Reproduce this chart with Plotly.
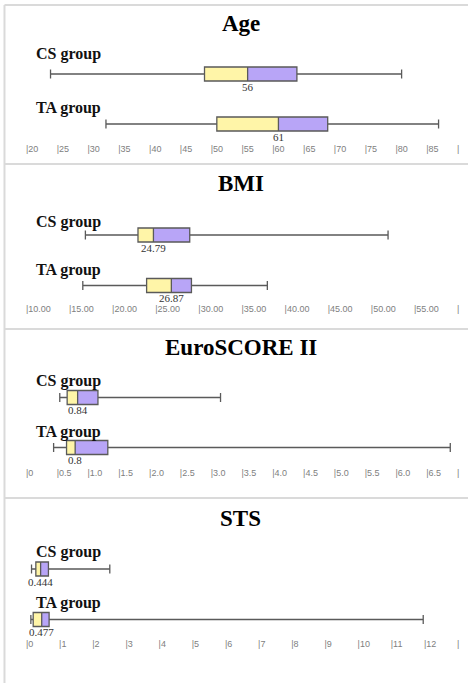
import plotly.graph_objects as go

# ---- data -------------------------------------------------------------
panel_titles = ["Age", "BMI", "EuroSCORE II", "STS"]
group_names = ["CS group", "TA group"]

# five-number summaries per panel: [CS, TA]
whisker_low = [[24, 33], [16.9, 16.6], [0.55, 0.45], [0.17, 0.15]]
quart1 = [[49, 51], [23.0, 24.0], [0.67, 0.66], [0.30, 0.22]]
medians = [[56, 61], [24.79, 26.87], [0.84, 0.8], [0.444, 0.477]]
quart3 = [[64, 69], [29.0, 29.2], [1.17, 1.33], [0.68, 0.70]]
whisker_high = [[81, 87], [52.0, 38.0], [3.16, 6.89], [2.53, 11.98]]

# axis scales and tick labels per panel
axis_ranges = [[20, 90], [10, 60], [0, 7], [0, 13]]
tick_values = [
    list(range(20, 91, 5)),
    list(range(10, 61, 5)),
    [i * 0.5 for i in range(15)],
    list(range(0, 14)),
]
tick_labels = [
    [str(v) for v in range(20, 90, 5)] + [""],
    [f"{v:.2f}" for v in range(10, 60, 5)] + [""],
    ["0"] + [f"{i * 0.5:.1f}" for i in range(1, 14)] + [""],
    [str(v) for v in range(0, 13)] + [""],
]

# ---- layout (pixel rows, page is 470 x 683) ---------------------------
W, H = 470, 683
panel_tops = [5, 164, 329, 498]
title_y = [23, 183, 347, 518]
label_y = [[54, 108], [222, 270], [381, 432], [552, 603]]
box_y = [[74, 124], [235, 285.5], [397.5, 447.5], [569, 619.5]]
tick_row_y = [148, 308, 472, 643]
BOX_H = 14
MED_LABEL_DY = 12.5

YELLOW = "#FFF5A8"
PURPLE = "#B8A5F7"
EDGE = "#5A5A5A"

fig = go.Figure()
annotations = []
shapes = []

x0_px, x1_px = 26, 459
for p in range(4):
    ax = "x" if p == 0 else f"x{p + 1}"
    for g in range(2):
        yc = box_y[p][g]
        # lower half of the box (Q1 -> median)
        fig.add_trace(go.Bar(
            x=[medians[p][g] - quart1[p][g]], base=[quart1[p][g]], y=[yc],
            orientation="h", width=BOX_H, marker=dict(color=YELLOW, line_width=0),
            xaxis=ax, yaxis="y", showlegend=False, hoverinfo="skip"))
        # upper half of the box (median -> Q3)
        fig.add_trace(go.Bar(
            x=[quart3[p][g] - medians[p][g]], base=[medians[p][g]], y=[yc],
            orientation="h", width=BOX_H, marker=dict(color=PURPLE, line_width=0),
            xaxis=ax, yaxis="y", showlegend=False, hoverinfo="skip"))
        # outline, median line and whiskers
        fig.add_trace(go.Box(
            y=[yc], q1=[quart1[p][g]], median=[medians[p][g]], q3=[quart3[p][g]],
            lowerfence=[whisker_low[p][g]], upperfence=[whisker_high[p][g]],
            orientation="h", width=BOX_H, whiskerwidth=0.65,
            fillcolor="rgba(0,0,0,0)", line=dict(color=EDGE, width=1.3),
            xaxis=ax, yaxis="y", showlegend=False, hoverinfo="skip"))
        # group label
        annotations.append(dict(
            text=f"<b>{group_names[g]}</b>", xref="paper", yref="y",
            x=34 / W, y=label_y[p][g], xanchor="left", yanchor="middle",
            showarrow=False, font=dict(family="Liberation Serif", size=16, color="#111")))
        # median value label
        annotations.append(dict(
            text=f"{medians[p][g]:g}", xref=ax, yref="y",
            x=medians[p][g], y=yc + MED_LABEL_DY, xanchor="center", yanchor="middle",
            showarrow=False, font=dict(family="Liberation Serif", size=11, color="#333")))

    # panel title
    annotations.append(dict(
        text=f"<b>{panel_titles[p]}</b>", xref="paper", yref="y",
        x=242 / W, y=title_y[p], xanchor="center", yanchor="middle",
        showarrow=False, font=dict(family="Liberation Serif", size=23, color="#000")))

    # x axis for the panel: "|value" labels sitting on a row of their own
    axis_line_px = tick_row_y[p] - 6
    fig.update_layout(**{
        ("xaxis" if p == 0 else f"xaxis{p + 1}"): dict(
            domain=[x0_px / W, x1_px / W], range=axis_ranges[p],
            anchor="free", position=1 - axis_line_px / H,
            tickmode="array", tickvals=tick_values[p],
            ticktext=["|" + t for t in tick_labels[p]],
            ticklabelposition="outside right", ticks="",
            showgrid=False, zeroline=False, showline=False,
            tickfont=dict(family="Liberation Sans", size=9, color="#808080"),
            fixedrange=True)
    })

# panel frame: left edge, top edge and separators
frame_col = "#DADADA"
shapes.append(dict(type="line", xref="paper", yref="y", x0=4.5 / W, x1=4.5 / W,
                   y0=panel_tops[0], y1=H, line=dict(color=frame_col, width=2)))
for t in panel_tops:
    shapes.append(dict(type="line", xref="paper", yref="y", x0=4.5 / W, x1=1,
                       y0=t, y1=t, line=dict(color=frame_col, width=2)))

fig.update_layout(
    width=W, height=H, margin=dict(l=0, r=0, t=0, b=0),
    paper_bgcolor="white", plot_bgcolor="rgba(0,0,0,0)",
    barmode="overlay", boxmode="overlay",
    yaxis=dict(domain=[0, 1], range=[H, 0], visible=False, fixedrange=True),
    annotations=annotations, shapes=shapes, showlegend=False,
)

fig.write_html("out.html", config={"displayModeBar": False})
